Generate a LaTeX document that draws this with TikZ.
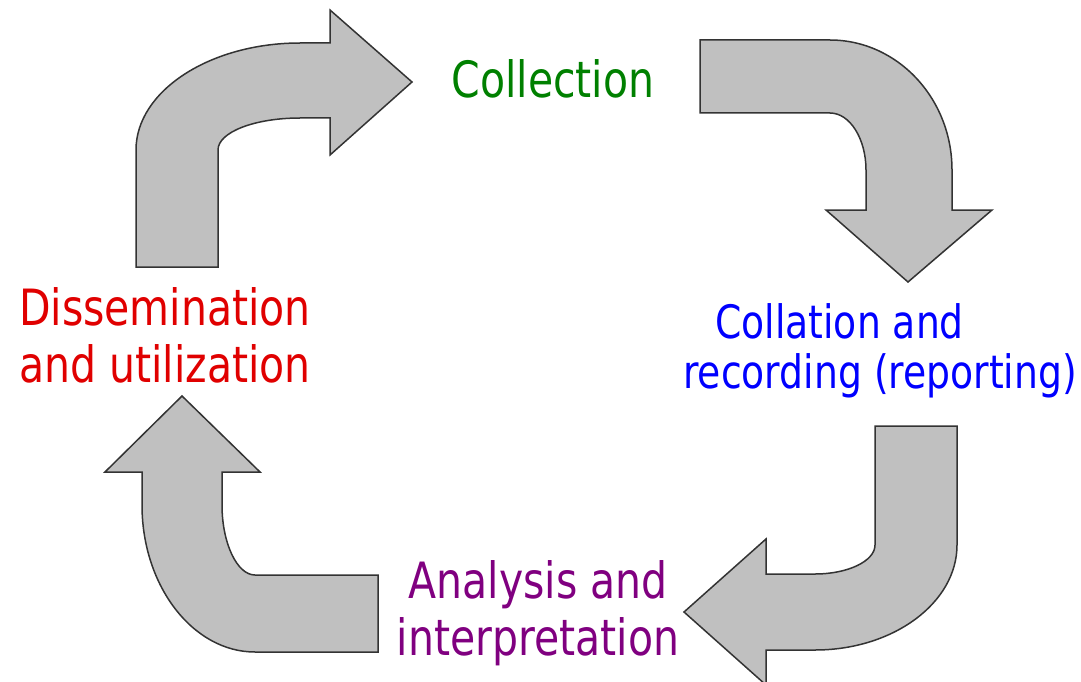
\documentclass[tikz,border=0pt]{standalone}
\usepackage{fontspec}
\setmainfont[FakeStretch=0.82]{DejaVu Sans}
\usepackage{tikz}
\usepackage{xcolor}
\usetikzlibrary{positioning, calc}
\definecolor{arrowFill}  {HTML}{C0C0C0}
\definecolor{arrowEdge}  {HTML}{333333}
\definecolor{cCollect}   {HTML}{008000}
\definecolor{cCollate}   {HTML}{0000FF}
\definecolor{cAnalyse}   {HTML}{800080}
\definecolor{cDissem}    {HTML}{E00000}

\begin{document}
\begin{tikzpicture}[x=1pt, y=-1pt,
    bentarrow/.style={fill=arrowFill, draw=arrowEdge, line width=1.5pt, line join=miter},
    stagelabel/.style={inner sep=0pt, align=center, font=\fontsize{50}{57}\selectfont}]
  \useasboundingbox (0,0) rectangle (1081,682);

  % dissemination -> collection
  \draw[bentarrow] (136,267) -- (136,150) .. controls +(0,-59) and +(-90,0) .. (300,43)
        -- (330,43) -- (330,10) -- (412,82) -- (330,155) -- (330,118) -- (300,118)
        .. controls +(-45,0) and +(0,-18) .. (218,150) -- (218,267) -- cycle;
  % collection -> collation
  \draw[bentarrow] (700,40) -- (830,40) .. controls +(67,0) and +(0,-72) .. (952,170)
        -- (952,210) -- (992,210) -- (908,282) -- (826,210) -- (866,210) -- (866,170)
        .. controls +(0,-31) and +(20,0) .. (830,113) -- (700,113) -- cycle;
  % collation -> analysis
  \draw[bentarrow] (875,426) -- (957,426) -- (957,545) .. controls +(0,58) and +(78,0) .. (815,650)
        -- (766,650) -- (766,685) -- (684,612) -- (766,539) -- (766,574) -- (815,574)
        .. controls +(33,0) and +(0,16) .. (875,545) -- cycle;
  % analysis -> dissemination
  \draw[bentarrow] (378,575) -- (378,652) -- (255,652) .. controls +(-62,0) and +(0,81) .. (142,505)
        -- (142,472) -- (105,472) -- (182,396) -- (260,472) -- (222,472) -- (222,505)
        .. controls +(0,38) and +(-18,0) .. (255,575) -- cycle;

  \node[stagelabel, text=cCollect, anchor=base] (collect) at (553,98) {Collection};
  \node[stagelabel, text=cCollate, anchor=base west, align=left,
        font=\fontsize{46}{50}\selectfont] (collate) at (683,388)
        {\hspace*{32pt}Collation and\\recording (reporting)};
  \node[stagelabel, text=cAnalyse, anchor=base] (analyse) at (538,655)
        {Analysis and\\interpretation};
  \node[stagelabel, text=cDissem, anchor=base] (dissem) at (165,382)
        {Dissemination\\and utilization};
\end{tikzpicture}
\end{document}
